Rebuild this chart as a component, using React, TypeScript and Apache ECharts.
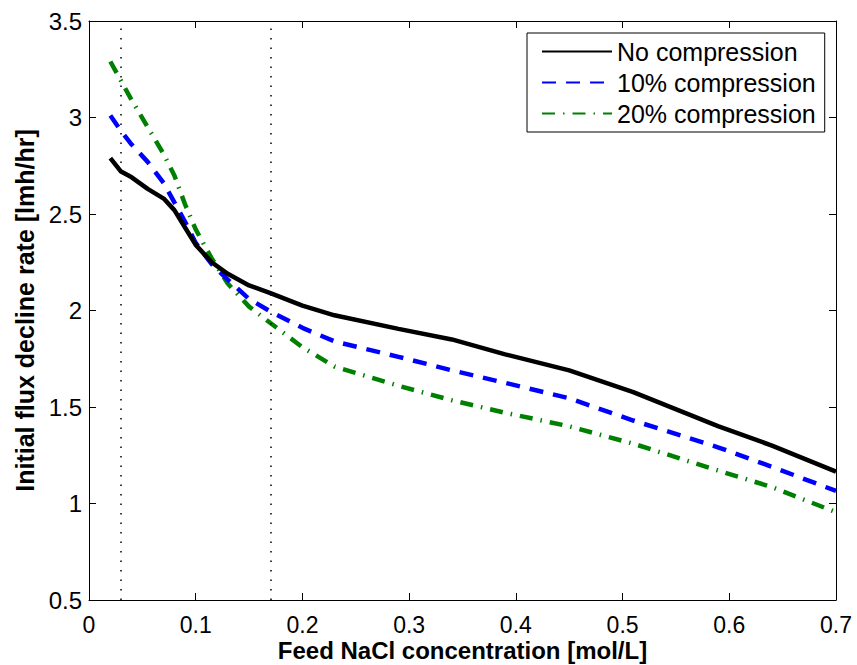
import React, { useEffect, useRef } from "react";
import * as echarts from "echarts";

const xValues = [0.02, 0.03, 0.04, 0.055, 0.07, 0.08, 0.09, 0.1, 0.115, 0.13, 0.15, 0.17, 0.2, 0.23, 0.29, 0.34, 0.39, 0.45, 0.51, 0.59, 0.64, 0.7];
const noCompression = [2.79, 2.72, 2.69, 2.63, 2.58, 2.52, 2.43, 2.34, 2.25, 2.19, 2.13, 2.09, 2.025, 1.975, 1.905, 1.85, 1.773, 1.69, 1.577, 1.4, 1.3, 1.165];
const tenPct = [3.01, 2.93, 2.86, 2.77, 2.66, 2.56, 2.46, 2.35, 2.24, 2.16, 2.06, 1.995, 1.91, 1.84, 1.76, 1.69, 1.625, 1.545, 1.43, 1.29, 1.19, 1.065];
const twentyPct = [3.29, 3.19, 3.09, 2.95, 2.81, 2.7, 2.55, 2.42, 2.27, 2.14, 2.02, 1.935, 1.81, 1.71, 1.61, 1.535, 1.47, 1.4, 1.31, 1.17, 1.085, 0.955];
const seriesNames = ["No compression", "10% compression", "20% compression"];
const markerX = [0.03, 0.17];

const FONT = "'Liberation Sans', Arial, Helvetica, sans-serif";

export default function App() {
  const ref = useRef<HTMLDivElement>(null);
  useEffect(() => {
    if (!ref.current) return;
    const chart = echarts.init(ref.current, null, { renderer: "svg" });
    const pair = (ys: number[]) => xValues.map((x, i) => [x, ys[i]]);
    const tickStyle = { inside: true, length: 7, lineStyle: { color: "#000", width: 1 } };
    chart.setOption({
      animation: false,
      backgroundColor: "#fff",
      grid: { left: 89, right: 21, top: 21, bottom: 65, containLabel: false, outerBoundsMode: "none" },
      legend: {
        orient: "vertical",
        left: 527,
        top: 33,
        padding: [6, 9, 6, 14],
        itemGap: 6,
        itemWidth: 70,
        itemHeight: 14,
        borderColor: "#000",
        borderWidth: 1,
        backgroundColor: "#fff",
        itemStyle: { opacity: 0 },
        textStyle: { fontFamily: FONT, fontSize: 25, color: "#000", lineHeight: 25 },
        data: seriesNames,
      },
      xAxis: [
        {
          type: "value",
          min: 0,
          max: 0.7,
          interval: 0.1,
          name: "Feed NaCl concentration [mol/L]",
          nameLocation: "middle",
          nameMoveOverlap: false,
          nameGap: 38,
          nameTextStyle: { fontFamily: FONT, fontSize: 24, fontWeight: "bold", color: "#000", lineHeight: 24 },
          axisLine: { onZero: false, lineStyle: { color: "#000", width: 1 } },
          axisTick: tickStyle,
          axisLabel: { fontFamily: FONT, fontSize: 23, color: "#000", margin: 13, formatter: (v: number) => (v === 0 ? "0" : String(Math.round(v * 10) / 10)) },
          splitLine: { show: false },
        },
        {
          type: "value",
          position: "top",
          min: 0,
          max: 0.7,
          interval: 0.1,
          axisLine: { onZero: false, lineStyle: { color: "#000", width: 1 } },
          axisTick: tickStyle,
          axisLabel: { show: false },
          splitLine: { show: false },
        },
      ],
      yAxis: [
        {
          type: "value",
          min: 0.5,
          max: 3.5,
          interval: 0.5,
          name: "Initial flux decline rate [lmh/hr]",
          nameLocation: "middle",
          nameMoveOverlap: false,
          nameGap: 52,
          nameTextStyle: { fontFamily: FONT, fontSize: 25, fontWeight: "bold", color: "#000" },
          axisLine: { show: true, onZero: false, lineStyle: { color: "#000", width: 1 } },
          axisTick: tickStyle,
          axisLabel: { fontFamily: FONT, fontSize: 24, color: "#000", margin: 7 },
          splitLine: { show: false },
        },
        {
          type: "value",
          position: "right",
          min: 0.5,
          max: 3.5,
          interval: 0.5,
          axisLine: { show: true, onZero: false, lineStyle: { color: "#000", width: 1 } },
          axisTick: tickStyle,
          axisLabel: { show: false },
          splitLine: { show: false },
        },
      ],
      series: [
        {
          name: seriesNames[0],
          type: "line",
          data: pair(noCompression),
          symbol: "none",
          color: "#000000",
          lineStyle: { color: "#000000", width: 4.5, type: "solid" },
          markLine: {
            silent: true,
            symbol: "none",
            label: { show: false },
            lineStyle: { color: "#000", width: 1.5, type: [1.5, 8] },
            data: markerX.map((x) => ({ xAxis: x })),
          },
          z: 3,
        },
        {
          name: seriesNames[1],
          type: "line",
          data: pair(tenPct),
          symbol: "none",
          color: "#0000ff",
          lineStyle: { color: "#0000ff", width: 4.5, type: [14, 10] },
          z: 2,
        },
        {
          name: seriesNames[2],
          type: "line",
          data: pair(twentyPct),
          symbol: "none",
          color: "#008000",
          lineStyle: { color: "#008000", width: 4.5, type: [13, 8, 1.5, 8] },
          z: 1,
        },
      ],
    });
    return () => chart.dispose();
  }, []);
  return <div ref={ref} style={{ width: 857, height: 665, position: "absolute", left: 0, top: 0 }} />;
}
